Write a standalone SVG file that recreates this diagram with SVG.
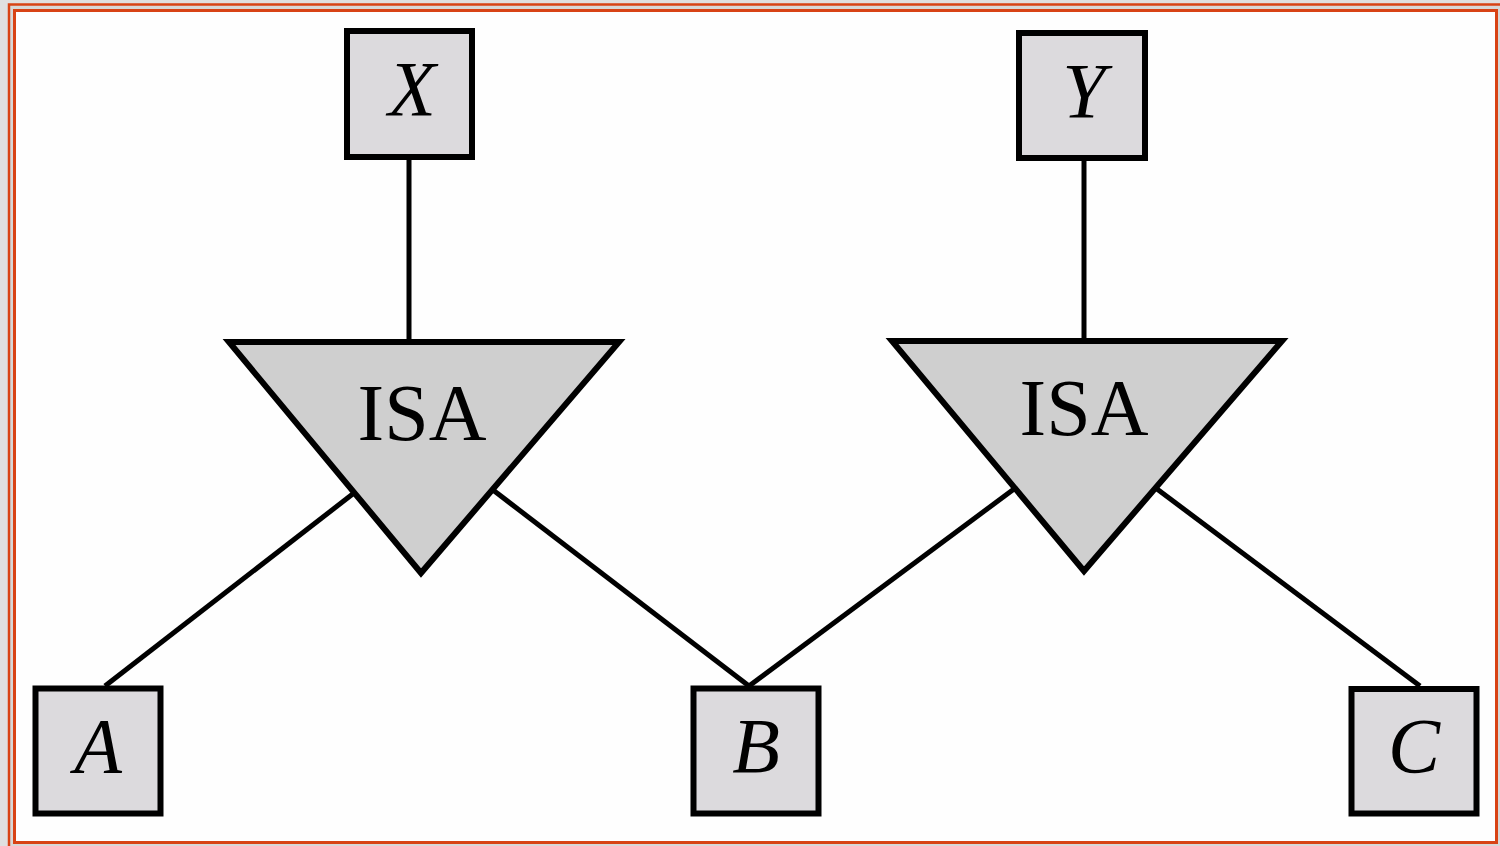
<svg xmlns="http://www.w3.org/2000/svg" width="1500" height="846" viewBox="0 0 1500 846">
<style>
.box{fill:#dcdadd;stroke:#000;stroke-width:6}
.tri{fill:#cfcfcf;stroke:#000;stroke-width:6;stroke-linejoin:miter}
.lbl{font-family:"Liberation Serif","Times New Roman",serif;font-style:italic;font-size:78px;fill:#000;text-anchor:middle}
.isa{font-family:"Liberation Serif","Times New Roman",serif;font-size:80px;fill:#000;text-anchor:middle}
.conn line{stroke:#000;stroke-width:5}
</style>
<rect x="0" y="0" width="1500" height="846" fill="#e0e0e0"/>
<rect x="9" y="4.5" width="1500" height="850" fill="#d8d8d8" stroke="#d84315" stroke-width="2.5"/>
<rect x="14.5" y="10.5" width="1482" height="832" fill="#fefefe" stroke="#d84315" stroke-width="3"/>
<g id="connectors" class="conn">
<line x1="409" y1="159" x2="409" y2="342"/>
<line x1="1084" y1="160" x2="1084" y2="341"/>
<line x1="105" y1="686" x2="354" y2="493"/>
<line x1="749" y1="686" x2="493" y2="490"/>
<line x1="749" y1="686" x2="1014" y2="489"/>
<line x1="1420" y1="686" x2="1157" y2="489"/>
</g>
<g id="isa1"><polygon class="tri" points="229,342 619,342 421,573"/><text class="isa" x="422" y="440">ISA</text></g>
<g id="isa2"><polygon class="tri" points="892,341 1282,341 1084,571"/><text class="isa" x="1084" y="435">ISA</text></g>
<g id="X"><rect class="box" x="347" y="31" width="125" height="126"/><text class="lbl" x="412" y="115">X</text></g>
<g id="Y"><rect class="box" x="1019" y="33" width="126" height="125"/><text class="lbl" x="1084" y="117">Y</text></g>
<g id="A"><rect class="box" x="35.5" y="688.5" width="125" height="125"/><text class="lbl" x="98" y="772">A</text></g>
<g id="B"><rect class="box" x="693.5" y="688.5" width="125" height="125"/><text class="lbl" x="756" y="772">B</text></g>
<g id="C"><rect class="box" x="1351.5" y="689" width="125" height="124.5"/><text class="lbl" x="1414" y="772">C</text></g>
</svg>
